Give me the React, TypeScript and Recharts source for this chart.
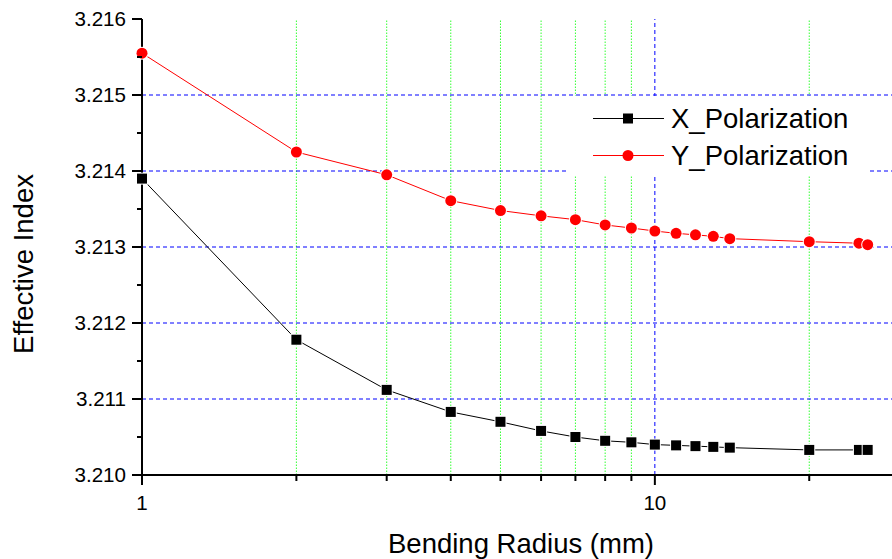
import React from 'react';
import { LineChart, Line, XAxis, YAxis, ReferenceLine, ReferenceDot, Legend } from 'recharts';

const FONT = "'Liberation Sans', Arial, Helvetica, sans-serif";

// Data
const radius = [1, 2, 3, 4, 5, 6, 7, 8, 9, 10, 11, 12, 13, 14, 20, 25, 26];
const xPolarization = [
  3.2139, 3.21178, 3.21112, 3.21083, 3.2107, 3.21058, 3.2105, 3.21045, 3.21043,
  3.2104, 3.21039, 3.21038, 3.21037, 3.21036, 3.21033, 3.21033, 3.21033,
];
const yPolarization = [
  3.21555, 3.21425, 3.21395, 3.21361, 3.21348, 3.21341, 3.21336, 3.21329, 3.21325,
  3.21321, 3.21318, 3.21316, 3.21314, 3.21311, 3.21307, 3.21305, 3.21303,
];

// Ticks and grid
const xDomain = [1, 29];
const yDomain = [3.21, 3.216];
const xTicks = [1, 2, 3, 4, 5, 6, 7, 8, 9, 10, 20];
const xTickLabels = [1, 10];
const yTicks = [3.21, 3.2105, 3.211, 3.2115, 3.212, 3.2125, 3.213, 3.2135, 3.214, 3.2145, 3.215, 3.2155, 3.216];
const yGridValues = [3.211, 3.212, 3.213, 3.214, 3.215];
const xMinorGrid = [2, 3, 4, 5, 6, 7, 8, 9, 20];
const xMajorGrid = [10];

const data = radius.map((r, i) => ({ r, x: xPolarization[i], y: yPolarization[i] }));

const XTick = (props: any) => {
  const { x, y, payload } = props;
  const v = payload.value;
  const major = xTickLabels.includes(v);
  return (
    <g>
      <line x1={x} x2={x} y1={y} y2={y + (major ? 10 : 6)} stroke="#000" strokeWidth={2} />
      {major && (
        <text x={x} y={y + 35} textAnchor="middle" fontSize={20.6} fontFamily={FONT} fill="#000">
          {String(v)}
        </text>
      )}
    </g>
  );
};

const YTick = (props: any) => {
  const { x, y, payload } = props;
  const v = payload.value as number;
  const major = Math.abs(v * 1000 - Math.round(v * 1000)) < 1e-6;
  return (
    <g>
      <line x1={x} x2={x - (major ? 10 : 5)} y1={y} y2={y} stroke="#000" strokeWidth={2} />
      {major && (
        <text x={x - 16} y={y} dy="0.35em" textAnchor="end" fontSize={20.6} fontFamily={FONT} fill="#000">
          {v.toFixed(3)}
        </text>
      )}
    </g>
  );
};

const SquareShape = (props: any) => {
  const { cx, cy } = props;
  if (cx == null || cy == null) return <g />;
  return (
    <rect x={cx - 5} y={cy - 5} width={10} height={10} fill="#000" stroke="#fff" strokeWidth={2} style={{ paintOrder: 'stroke' }} />
  );
};

const CircleShape = (props: any) => {
  const { cx, cy } = props;
  if (cx == null || cy == null) return <g />;
  return <circle cx={cx} cy={cy} r={5.5} fill="#ff0000" stroke="#fff" strokeWidth={2} style={{ paintOrder: 'stroke' }} />;
};

const LegendContent = (props: any) => {
  const { payload } = props;
  return (
    <div style={{ width: 302, height: 80, background: '#fff', paddingTop: 4, boxSizing: 'border-box' }}>
      {(payload || []).map((item: any) => (
        <div key={String(item.value)} style={{ display: 'flex', alignItems: 'center', height: 37 }}>
          <svg width={97} height={37} style={{ display: 'block' }}>
            <line x1={25} x2={96} y1={18.5} y2={18.5} stroke={item.color} strokeWidth={1} />
            {item.dataKey === 'x' ? (
              <rect x={55} y={13.5} width={10} height={10} fill="#000" />
            ) : (
              <circle cx={60} cy={18.5} r={5.5} fill="#ff0000" />
            )}
          </svg>
          <span style={{ fontSize: 27.5, fontFamily: FONT, color: '#000', marginLeft: 6, lineHeight: '37px' }}>
            {item.value}
          </span>
        </div>
      ))}
    </div>
  );
};

export default function App() {
  return (
    <div style={{ position: 'absolute', left: 0, top: 0, width: 892, height: 559, background: '#fff' }}>
      <LineChart width={892} height={559} data={data} margin={{ top: 19, right: 0, bottom: 0, left: 0 }}>
        <XAxis
          dataKey="r"
          type="number"
          scale="log"
          domain={xDomain}
          ticks={xTicks}
          interval={0}
          tick={XTick}
          tickLine={false}
          tickSize={0}
          tickMargin={0}
          height={84}
          axisLine={false}
          label={{
            value: 'Bending Radius (mm)',
            position: 'insideBottom',
            offset: 6,
            dx: 4,
            fontSize: 27.5,
            fontFamily: FONT,
            fill: '#000',
          }}
        />
        <YAxis
          type="number"
          domain={yDomain}
          ticks={yTicks}
          interval={0}
          tick={YTick}
          tickLine={false}
          tickSize={0}
          tickMargin={0}
          width={142}
          axisLine={false}
          label={{
            value: 'Effective Index',
            angle: -90,
            position: 'center',
            dx: -48,
            dy: 17,
            fontSize: 27.5,
            fontFamily: FONT,
            fill: '#000',
          }}
        />
        {xMinorGrid.map((v) => (
          <ReferenceLine key={'gx' + v} x={v} stroke="#33ff33" strokeDasharray="1.5 1.5" strokeWidth={1} zIndex={-10} />
        ))}
        {xMajorGrid.map((v) => (
          <ReferenceLine key={'mx' + v} x={v} stroke="#0000ff" strokeDasharray="4 3" strokeWidth={1} zIndex={-10} />
        ))}
        {yGridValues.map((v) => (
          <ReferenceLine key={'gy' + v} y={v} stroke="#0000ff" strokeDasharray="4 3" strokeWidth={1} zIndex={-10} />
        ))}
        <ReferenceLine x={xDomain[0]} stroke="#000" strokeWidth={2} ifOverflow="visible" zIndex={450} />
        <ReferenceLine y={yDomain[0]} stroke="#000" strokeWidth={2} ifOverflow="visible" zIndex={450} />
        <Legend
          layout="vertical"
          align="center"
          verticalAlign="middle"
          content={LegendContent}
          wrapperStyle={{ left: 568, top: 96, width: 302, height: 80 }}
        />
        <Line
          dataKey="x"
          name="X_Polarization"
          stroke="#000"
          strokeWidth={1}
          dot={false}
          activeDot={false}
          isAnimationActive={false}
          zIndex={460}
        />
        <Line
          dataKey="y"
          name="Y_Polarization"
          stroke="#ff0000"
          strokeWidth={1}
          dot={false}
          activeDot={false}
          isAnimationActive={false}
          zIndex={460}
        />
        {radius.map((r, i) => (
          <ReferenceDot key={'xd' + i} x={r} y={xPolarization[i]} ifOverflow="visible" shape={SquareShape} zIndex={700} />
        ))}
        {radius.map((r, i) => (
          <ReferenceDot key={'yd' + i} x={r} y={yPolarization[i]} ifOverflow="visible" shape={CircleShape} zIndex={700} />
        ))}
      </LineChart>
    </div>
  );
}
